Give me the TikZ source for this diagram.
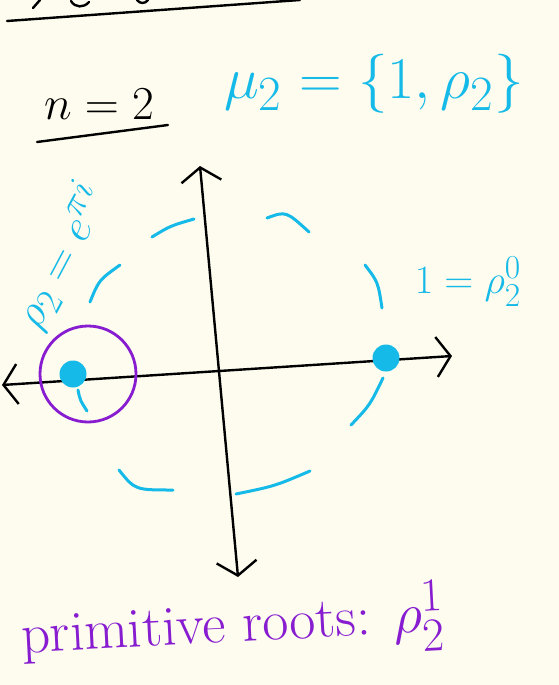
\documentclass[tikz,border=0pt]{standalone}
\usepackage{amsmath,amssymb}
\usepackage{xcolor}
\usepackage{tikz}
\usetikzlibrary{arrows.meta}
\usetikzlibrary{positioning}

\definecolor{paper}{RGB}{253,252,238}
\definecolor{inkblue}{RGB}{22,186,232}
\definecolor{inkpurple}{RGB}{135,28,208}

\begin{document}
\begin{tikzpicture}[
    x=1pt, y=-1pt,
    >={Straight Barb[length=14pt,width=40pt]},
    axis/.style={line width=2.4pt, line cap=round, <->},
    pen/.style={line width=2.4pt, line cap=round},
    dashpart/.style={inkblue, line width=3pt, line cap=round},
    rootdot/.style={circle, fill=inkblue, draw=none, minimum size=27pt, inner sep=0pt},
    ring/.style={circle, draw=inkpurple, line width=2.8pt, minimum size=96pt, inner sep=0pt},
    hand/.style={inner sep=0pt, font=\Huge, scale=1.9}
  ]

  % Paper
  \fill[paper] (0,0) rectangle (559,685);
  \useasboundingbox (0,0) rectangle (559,685);

  % Cut-off line at the top
  \draw[pen] (7,21) -- (300,0);
  \draw[pen] (33,8) -- (40,0);
  \draw[pen] (71,1) .. controls (75,8) and (84,8) .. (89,2);
  \draw[pen] (137,0) .. controls (140,4) and (145,4) .. (148,0);

  % Title
  \node[hand] (ntwo) at (99,104) {$n=2$};
  \draw[pen] (37,142) -- (168,125);
  \node[hand, text=inkblue, scale=1.25] (mutwo) at (374,84) {$\mu_2=\{1,\rho_2\}$};

  % Axes
  \coordinate (xl) at (2,385);
  \coordinate (xr) at (452,356);
  \coordinate (yt) at (200,166);
  \coordinate (yb) at (238,577);
  \draw[axis] (xl) -- (xr);
  \draw[axis] (yb) -- (yt);

  % Unit circle (dashed by hand)
  \draw[dashpart] (152,237) .. controls (170,226) .. (194,219);
  \draw[dashpart] (267,218) .. controls (286,211) .. (309,232);
  \draw[dashpart] (90,302) .. controls (99,280) .. (120,265);
  \draw[dashpart] (365,265) .. controls (378,282) .. (382,308);
  \draw[dashpart] (351,425) .. controls (370,405) .. (383,378);
  \draw[dashpart] (236,494) .. controls (275,486) .. (310,471);
  \draw[dashpart] (119,470) .. controls (135,490) .. (173,490);
  \draw[dashpart] (78,390) .. controls (80,400) .. (87,411);

  % Roots
  \node[rootdot] (rhoone) at (73,374) {};
  \node[rootdot] (one) at (386,358) {};
  \node[ring] (prring) at (88,374) {};

  % Labels
  \node[hand, text=inkblue, rotate=62, scale=0.95] (rholabel) at (60,256) {$\rho_2=e^{\pi i}$};
  \node[hand, text=inkblue, scale=0.85] (onelabel) at (468,282) {$1=\rho_2^0$};
  \node[hand, text=inkpurple, rotate=3, scale=1.2] (prim) at (233,626) {primitive roots: $\rho_2^1$};

\end{tikzpicture}
\end{document}
